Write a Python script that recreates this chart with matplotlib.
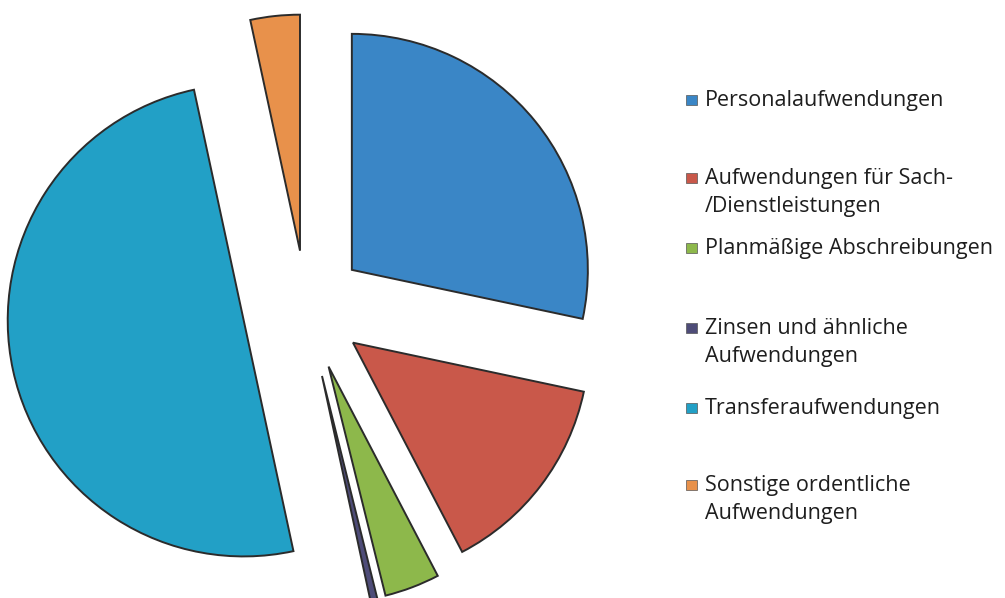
import matplotlib
matplotlib.use("Agg")
import matplotlib.pyplot as plt
from matplotlib.patches import Rectangle

# shares (percent)
labels = ["Personalaufwendungen",
          "Aufwendungen für Sach-\n/Dienstleistungen",
          "Planmäßige Abschreibungen",
          "Zinsen und ähnliche\nAufwendungen",
          "Transferaufwendungen",
          "Sonstige ordentliche\nAufwendungen"]
values = [28.5, 14.1, 3.8, 0.5, 50.3, 3.4]
explode = [0.25, 0.25, 0.27, 0.30, 0.27, 0.24]
colors = ["#3A86C6", "#C9584A", "#8DB84B", "#4E4C78", "#22A0C6", "#E8914B"]

W, H = 1005, 598
R = 236.0      # pie radius in pixels
cx, cy = 306, 307  # pie centre in pixels (from top-left)

fig = plt.figure(figsize=(W / 100, H / 100), dpi=100)
ax = fig.add_axes([0, 0, 1, 1])
ax.pie(values, explode=explode, colors=colors, startangle=90, counterclock=False,
       wedgeprops={"edgecolor": "#2b2b2b", "linewidth": 1.4})
ax.set_xlim(-cx / R, (W - cx) / R)
ax.set_ylim(-(H - cy) / R, cy / R)
ax.set_aspect("equal")
ax.axis("off")

# legend drawn by hand, Excel-like uneven spacing
leg_y = [100, 178, 248, 328, 408, 485]
for lab, col, y in zip(labels, colors, leg_y):
    fig.patches.append(Rectangle((686 / W, 1 - (y + 5) / H), 11 / W, 10 / H,
                                 transform=fig.transFigure, facecolor=col,
                                 edgecolor="#555555", linewidth=0.5))
    fig.text(705 / W, 1 - (y - 10) / H, lab, ha="left", va="top",
             fontsize=15.5, family="Open Sans", color="#1e1e1e",
             linespacing=1.42)

fig.savefig("out.png", dpi=100)
